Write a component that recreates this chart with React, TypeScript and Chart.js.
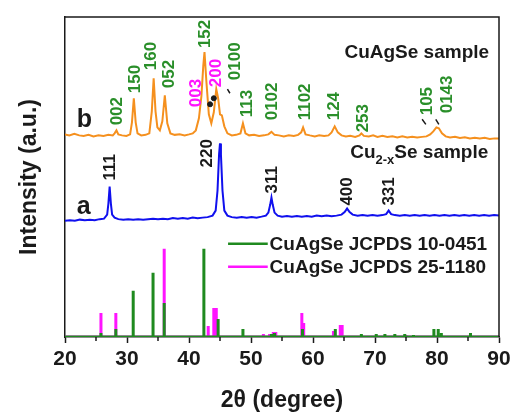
import { useEffect, useRef } from "react";
import { Chart, registerables } from "chart.js";

Chart.register(...registerables);

// ---- Data (2θ in degrees, intensity in arbitrary units) ----
// b: CuAgSe sample
const twoThetaB = [20, 20.7, 21.5, 22.3, 23.0, 23.8, 24.6, 25.4, 26.2, 27.0, 27.7, 28.0, 28.3, 28.6, 29.2, 29.9, 30.5, 30.8, 31.1, 31.4, 31.7, 32.3, 33.0, 33.6, 34.0, 34.3, 34.6, 34.9, 35.3, 35.7, 36.1, 36.5, 37.0, 37.7, 38.5, 39.3, 40.0, 40.6, 41.1, 41.6, 42.0, 42.3, 42.5, 42.8, 43.2, 43.6, 44.0, 44.4, 44.7, 45.0, 45.3, 45.7, 46.2, 46.9, 47.6, 48.3, 48.7, 49.1, 49.7, 50.5, 51.3, 52.1, 52.8, 53.3, 53.8, 54.5, 55.3, 56.1, 56.9, 57.6, 58.1, 58.4, 58.8, 59.5, 60.3, 61.0, 61.8, 62.5, 63.0, 63.5, 64.0, 64.6, 65.3, 66.0, 66.8, 67.5, 67.8, 68.2, 69.0, 69.7, 70.4, 71.2, 72.0, 72.8, 73.6, 74.4, 75.2, 76.0, 76.8, 77.6, 78.3, 78.9, 79.4, 79.9, 80.3, 80.8, 81.4, 82.1, 82.9, 83.7, 84.5, 85.3, 86.1, 86.9, 87.7, 88.5, 89.3, 90];
const intensityB = [202, 201, 202.5, 201, 200.5, 201.5, 200, 201, 200.5, 201.5, 201, 203, 206, 202, 201, 200.5, 202, 214, 238, 214, 203, 201, 201.5, 203, 225, 258, 225, 209, 206, 215, 241, 213, 203, 201.5, 202, 201, 202, 203, 206, 218, 240, 270, 284, 255, 222, 213, 224, 247, 238, 222, 221, 210, 203, 201, 201.5, 203, 213, 203, 201, 201.5, 200.5, 201, 202, 204.5, 201.5, 201, 200, 201, 200.5, 201.5, 204, 209, 202, 201, 200, 201, 200.5, 201, 204, 210, 204, 201, 200, 200.5, 199.5, 201, 203, 200.5, 200, 201, 199.5, 200.5, 199.5, 200, 199, 200, 199, 199.5, 199, 199.5, 200, 202, 205, 209, 208, 203, 200, 199, 199.5, 198.5, 199, 198, 198.5, 198, 198.5, 197.5, 198, 198];

// a: Cu2-xSe sample
const twoThetaA = [20, 20.8, 21.6, 22.4, 23.2, 24.0, 24.8, 25.6, 26.3, 26.8, 27.0, 27.2, 27.4, 27.6, 28.0, 28.6, 29.4, 30.2, 31.0, 31.8, 32.6, 33.4, 34.2, 35.0, 35.8, 36.6, 37.4, 38.2, 39.0, 39.8, 40.6, 41.4, 42.2, 43.0, 43.8, 44.3, 44.6, 44.85, 45.0, 45.15, 45.4, 45.7, 46.2, 46.9, 47.7, 48.5, 49.3, 50.1, 50.9, 51.7, 52.4, 52.8, 53.1, 53.3, 53.5, 53.8, 54.3, 55.0, 55.8, 56.6, 57.4, 58.2, 59.0, 59.8, 60.6, 61.4, 62.2, 63.0, 63.8, 64.6, 65.1, 65.5, 65.9, 66.4, 67.2, 68.0, 68.8, 69.6, 70.4, 71.2, 71.8, 72.2, 72.6, 73.2, 74.0, 74.8, 75.6, 76.4, 77.2, 78.0, 78.8, 79.6, 80.4, 81.2, 82.0, 82.8, 83.6, 84.4, 85.2, 86.0, 86.8, 87.6, 88.4, 89.2, 90];
const intensityA = [116, 116.5, 116, 117, 116.5, 117, 116.5, 117.5, 118, 122, 133, 150, 133, 122, 119, 117.5, 117, 117.5, 117, 117.5, 117, 117.5, 118, 117.5, 118, 117.5, 118.5, 118, 118.5, 118, 119, 118.5, 119, 119.5, 121, 126, 146, 182, 193, 182, 146, 126, 121, 119.5, 119, 119.5, 119, 119.5, 119, 120, 121, 124, 132, 139, 132, 124, 121, 120, 120.5, 120, 120.5, 120, 120.5, 120, 121, 120.5, 121, 120.5, 121, 122, 124.5, 128, 124.5, 122, 121, 121.5, 121, 121.5, 121, 121.5, 122.5, 126, 122.5, 121.5, 121, 121.5, 121, 121.5, 121, 121.5, 121, 121.5, 121, 121.5, 121, 121.5, 121, 121.5, 121, 121.5, 121, 121.5, 121, 121.5, 121];

// Reference patterns (stick lines)
const refGreenPos = [25.8, 28.2, 31.0, 34.2, 36.0, 42.4, 44.7, 48.7, 53.3, 53.8, 58.3, 63.6, 67.8, 70.2, 71.6, 73.2, 74.8, 76.2, 79.5, 80.2, 80.7, 85.4];
const refGreenHeight = [4, 8, 46, 64, 34, 88, 18, 8, 3, 4, 8, 8, 3, 3, 3, 3, 3, 2, 8, 8, 4, 4];
const refMagentaPos = [25.8, 28.2, 36.0, 43.1, 44.0, 44.4, 52.0, 53.0, 53.6, 54.0, 58.2, 58.5, 63.3, 64.4, 64.7, 75.0];
const refMagentaHeight = [24, 24, 88, 11, 29, 29, 3, 3, 5, 5, 24, 14, 6, 12, 12, 2];

// Axis ticks
const xMajorTicks = [20, 30, 40, 50, 60, 70, 80, 90];
const xMinorTicks = [25, 35, 45, 55, 65, 75, 85];

// Peak indices (Miller) for b
const bLabels = ["002", "150", "160", "052", "003", "152", "200", "0100", "113", "0102", "1102", "124", "253", "105", "0143"];
const bLabelX = [28.5, 31.3, 34.0, 36.9, 41.1, 42.6, 44.4, 47.4, 49.4, 53.5, 58.7, 63.5, 68.1, 78.4, 81.6];
const bLabelY = [211, 243, 266, 248, 229, 288, 249, 256, 219, 216, 216, 216, 204, 221, 223];
const bLabelRef = ["g", "g", "g", "g", "m", "g", "m", "g", "g", "g", "g", "g", "g", "g", "g"];

// Peak indices for a
const aLabels = ["111", "220", "311", "400", "331"];
const aLabelX = [27.3, 42.9, 53.4, 65.5, 72.3];
const aLabelY = [156, 169, 143, 131, 131];

// Marker dots on b
const dotX = [43.4, 44.0];
const dotY = [232, 238];

// Small pointer strokes [x1, y1, x2, y2]
const pointerX1 = [46.6, 77.6, 80.3];
const pointerY1 = [243, 217, 212];
const pointerX2 = [46.2, 78.2, 79.8];
const pointerY2 = [247, 212, 217];

const legendNames = ["CuAgSe JCPDS 10-0451", "CuAgSe JCPDS 25-1180"];

const FONT = "'Liberation Sans', Arial, sans-serif";
const ORANGE = "#f5901e";
const BLUE = "#1010ee";
const GREEN = "#1f8a1f";
const GREEN_TEXT = "#2a8f2a";
const MAGENTA = "#ff14ff";
const INK = "#1a1a1a";

function sticks(pos: number[], h: number[]) {
  const pts: { x: number; y: number }[] = [{ x: 20, y: 0 }];
  pos.forEach((p, i) => {
    pts.push({ x: p, y: 0 }, { x: p, y: h[i] }, { x: p, y: 0 });
  });
  pts.push({ x: 90, y: 0 });
  return pts;
}

const annotate = {
  id: "annotate",
  afterDatasetsDraw(chart: any) {
    const { ctx, chartArea: a, scales } = chart;
    const X = (v: number) => scales.x.getPixelForValue(v);
    const Y = (v: number) => scales.y.getPixelForValue(v);
    ctx.save();

    // frame (top & right)
    ctx.strokeStyle = INK;
    ctx.lineWidth = 1.5;
    ctx.beginPath();
    ctx.moveTo(a.left, a.top);
    ctx.lineTo(a.right, a.top);
    ctx.lineTo(a.right, a.bottom);
    ctx.stroke();

    // minor ticks
    ctx.beginPath();
    xMinorTicks.forEach((t) => {
      const px = X(t);
      ctx.moveTo(px, a.bottom);
      ctx.lineTo(px, a.bottom + 4);
    });
    ctx.stroke();

    // rotated peak labels
    const rot = (text: string, x: number, y: number, color: string, size: number) => {
      ctx.save();
      ctx.translate(X(x), Y(y));
      ctx.rotate(-Math.PI / 2);
      ctx.fillStyle = color;
      ctx.font = `bold ${size}px ${FONT}`;
      ctx.textAlign = "left";
      ctx.textBaseline = "middle";
      ctx.fillText(text, 0, 0);
      ctx.restore();
    };
    bLabels.forEach((t, i) => rot(t, bLabelX[i], bLabelY[i], bLabelRef[i] === "m" ? MAGENTA : GREEN_TEXT, 17));
    aLabels.forEach((t, i) => rot(t, aLabelX[i], aLabelY[i], INK, 17));

    // pointer strokes
    ctx.strokeStyle = INK;
    ctx.lineWidth = 1.5;
    ctx.beginPath();
    pointerX1.forEach((_, i) => {
      ctx.moveTo(X(pointerX1[i]), Y(pointerY1[i]));
      ctx.lineTo(X(pointerX2[i]), Y(pointerY2[i]));
    });
    ctx.stroke();

    // sample names
    ctx.fillStyle = INK;
    ctx.textBaseline = "alphabetic";
    ctx.font = `bold 19px ${FONT}`;
    ctx.textAlign = "right";
    ctx.fillText("CuAgSe sample", X(88.4), Y(278));
    ctx.textAlign = "left";
    let cx = X(66.0);
    const by = Y(178);
    ctx.fillText("Cu", cx, by);
    cx += ctx.measureText("Cu").width;
    ctx.font = `bold 13px ${FONT}`;
    ctx.fillText("2-x", cx, by + 6);
    cx += ctx.measureText("2-x").width;
    ctx.font = `bold 19px ${FONT}`;
    ctx.fillText("Se sample", cx, by);

    // curve letters
    ctx.font = `bold 25px ${FONT}`;
    ctx.fillText("b", X(21.9), Y(209));
    ctx.fillText("a", X(21.9), Y(123));

    // legend
    const legendY = [93, 70];
    const legendColors = [GREEN, MAGENTA];
    legendNames.forEach((name, i) => {
      ctx.strokeStyle = legendColors[i];
      ctx.lineWidth = 2.5;
      ctx.beginPath();
      ctx.moveTo(X(46.3), Y(legendY[i]));
      ctx.lineTo(X(52.7), Y(legendY[i]));
      ctx.stroke();
      ctx.fillStyle = INK;
      ctx.font = `bold 19px ${FONT}`;
      ctx.textAlign = "left";
      ctx.textBaseline = "middle";
      ctx.fillText(name, X(53.0), Y(legendY[i]) + 1);
    });

    ctx.restore();
  },
};

export default function App() {
  const ref = useRef<HTMLCanvasElement>(null);
  useEffect(() => {
    const chart = new Chart(ref.current!, {
      type: "line",
      data: {
        datasets: [
          {
            label: "b",
            data: twoThetaB.map((x, i) => ({ x, y: intensityB[i] })),
            borderColor: ORANGE,
            borderWidth: 2,
            pointRadius: 0,
            order: 3,
          },
          {
            label: "a",
            data: twoThetaA.map((x, i) => ({ x, y: intensityA[i] })),
            borderColor: BLUE,
            borderWidth: 2,
            pointRadius: 0,
            order: 4,
          },
          {
            label: legendNames[1],
            data: sticks(refMagentaPos, refMagentaHeight),
            borderColor: MAGENTA,
            borderWidth: 3,
            pointRadius: 0,
            order: 6,
          },
          {
            label: legendNames[0],
            data: sticks(refGreenPos, refGreenHeight),
            borderColor: GREEN,
            borderWidth: 3,
            pointRadius: 0,
            order: 5,
          },
          {
            type: "scatter",
            label: "markers",
            data: dotX.map((x, i) => ({ x, y: dotY[i] })),
            backgroundColor: INK,
            borderColor: INK,
            pointRadius: 2.5,
            order: 1,
          } as any,
        ],
      },
      options: {
        responsive: false,
        animation: false,
        layout: { autoPadding: false, padding: { left: 8, right: 14, top: 17, bottom: 0 } },
        plugins: { legend: { display: false }, tooltip: { enabled: false } },
        elements: { line: { tension: 0 } },
        scales: {
          x: {
            type: "linear",
            min: 20,
            max: 90,
            afterBuildTicks: (s: any) => {
              s.ticks = xMajorTicks.map((v) => ({ value: v }));
            },
            afterFit: (s: any) => {
              s.paddingRight = 0;
              s.paddingLeft = 0;
            },
            grid: { drawOnChartArea: false, drawTicks: true, tickLength: 6, tickWidth: 1.5, tickColor: INK },
            border: { display: true, color: INK, width: 1.5 },
            ticks: {
              font: { family: FONT, size: 21, weight: "bold", lineHeight: 1 },
              color: INK,
              padding: 6,
              maxRotation: 0,
            },
            title: {
              display: true,
              text: "2θ (degree)",
              font: { family: FONT, size: 23, weight: "bold", lineHeight: 1 },
              color: INK,
              padding: { top: 13, bottom: 0 },
            },
          },
          y: {
            min: 0,
            max: 319,
            ticks: { display: false },
            grid: { display: false, drawTicks: false, tickLength: 0 },
            border: { display: true, color: INK, width: 1.5 },
            title: {
              display: true,
              text: "Intensity (a.u.)",
              font: { family: FONT, size: 23, weight: "bold", lineHeight: 1.2 },
              color: INK,
              padding: { top: 8.2, bottom: 21.2 },
            },
          },
        },
      },
      plugins: [annotate],
    } as any);
    return () => chart.destroy();
  }, []);
  return (
    <div style={{ position: "fixed", left: 0, top: 0, width: 513, height: 412, background: "#fff" }}>
      <canvas ref={ref} width={513} height={412} style={{ display: "block" }} />
    </div>
  );
}
